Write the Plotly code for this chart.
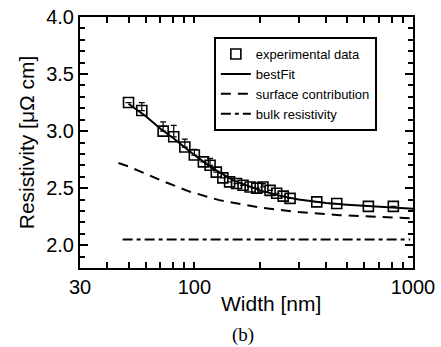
import plotly.graph_objects as go

# experimental data (width nm, resistivity uOhm cm, upper error)
exp_w = [50, 57.5, 72, 80.5, 90.5, 100, 110, 118, 126, 135, 145, 156, 167, 180,
         193, 206, 222, 238, 255, 274, 363, 448, 625, 813]
exp_r = [3.25, 3.18, 3.0, 2.95, 2.86, 2.79, 2.73, 2.70, 2.64, 2.59, 2.555, 2.54,
         2.525, 2.51, 2.50, 2.51, 2.48, 2.455, 2.43, 2.41, 2.38, 2.365, 2.34, 2.34]
exp_err = [0, 0.07, 0.08, 0.1, 0.07, 0.05, 0, 0.06, 0, 0, 0, 0, 0, 0, 0, 0.03,
           0, 0, 0, 0, 0, 0, 0, 0]

fit_w = [50, 60, 70, 80, 90, 100, 120, 150, 200, 250, 300, 400, 500, 700, 1000]
fit_r = [3.24, 3.13, 3.02, 2.94, 2.86, 2.79, 2.68, 2.57, 2.48, 2.43, 2.40, 2.37,
         2.355, 2.335, 2.32]

surf_w = [45, 50, 70, 95, 130, 200, 300, 460, 700, 1000]
surf_r = [2.72, 2.69, 2.57, 2.47, 2.395, 2.33, 2.29, 2.263, 2.248, 2.234]

bulk_w = [47, 970]
bulk_r = [2.05, 2.05]

x_major = [30, 100, 1000]
x_all = [30, 40, 50, 60, 70, 80, 90, 100, 200, 300, 400, 500, 600, 700, 800, 900, 1000]
x_all_text = [str(v) if v in x_major else "" for v in x_all]

FONT = "Liberation Sans, Arial, sans-serif"

fig = go.Figure()
fig.add_trace(go.Scatter(
    x=exp_w, y=exp_r, mode="markers", name="experimental data",
    marker=dict(symbol="square-open", size=10, color="black", line=dict(width=1.6)),
    error_y=dict(type="data", symmetric=False, array=exp_err,
                 arrayminus=[0] * len(exp_err), color="black", thickness=1.2, width=3),
))
fig.add_trace(go.Scatter(x=fit_w, y=fit_r, mode="lines", name="bestFit",
                         line=dict(color="black", width=2)))
fig.add_trace(go.Scatter(x=surf_w, y=surf_r, mode="lines", name="surface contribution",
                         line=dict(color="black", width=2, dash="10px,7px")))
fig.add_trace(go.Scatter(x=bulk_w, y=bulk_r, mode="lines", name="bulk resistivity",
                         line=dict(color="black", width=2, dash="10px,4px,4px,4px")))

fig.update_layout(
    template="none",
    width=441, height=347,
    margin=dict(l=80, r=28, t=17, b=79),
    font=dict(family=FONT, color="black", size=20),
    showlegend=True,
    legend=dict(x=0.402, y=0.92, xanchor="left", yanchor="top",
                bordercolor="black", borderwidth=2, bgcolor="white",
                font=dict(size=13, family=FONT), tracegroupgap=0,
                itemwidth=30),
    xaxis=dict(type="log", range=[1.4771, 3.0], tickmode="array", tickvals=x_all,
               ticktext=x_all_text, ticks="inside", ticklen=6, tickwidth=1.5,
               tickcolor="black",
               showline=True, linecolor="black", linewidth=2, mirror="ticks",
               showgrid=False, zeroline=False),
    yaxis=dict(range=[1.8, 4.0], tickmode="linear", tick0=2.0, dtick=0.5,
               tickformat=".1f", ticks="inside", ticklen=8,
               tickwidth=1.5, tickcolor="black", showline=True, linecolor="black",
               linewidth=2, mirror="ticks", showgrid=False, zeroline=False,
               minor=dict(dtick=0.1, ticks="inside", ticklen=5, tickcolor="black",
                          showgrid=False)),
    annotations=[
        dict(text="Resistivity [μΩ cm]", xref="paper", yref="paper",
             x=-0.16, y=0.5, xanchor="center", yanchor="middle", textangle=-90,
             showarrow=False, font=dict(size=21, family=FONT)),
        dict(text="Width [nm]", xref="paper", yref="paper", x=0.575, y=-0.14,
             xanchor="center", yanchor="middle",
             showarrow=False, font=dict(size=21, family=FONT)),
        dict(text="(b)", xref="paper", yref="paper", x=0.49, y=-0.265,
             xanchor="center", yanchor="middle", showarrow=False,
             font=dict(size=19, family="Liberation Serif, Times New Roman, serif")),
    ],
)

fig.write_html("out.html", config={"displayModeBar": False},
               post_script="document.body.style.margin='0';document.body.style.overflow='hidden';")
